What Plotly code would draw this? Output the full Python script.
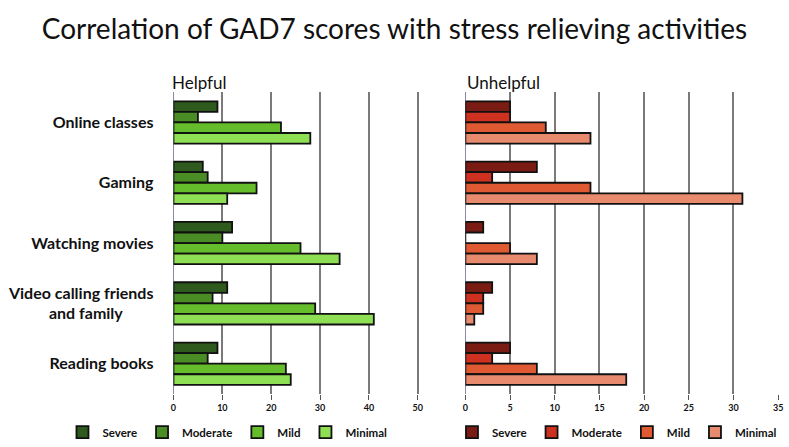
import plotly.graph_objects as go

categories = ["Online classes", "Gaming", "Watching movies",
              "Video calling friends<br>and family\u00a0\u00a0\u00a0\u00a0\u00a0\u00a0\u00a0\u00a0", "Reading books"]
levels = ["Severe", "Moderate", "Mild", "Minimal"]

helpful_severe = [9, 6, 12, 11, 9]
helpful_moderate = [5, 7, 10, 8, 7]
helpful_mild = [22, 17, 26, 29, 23]
helpful_minimal = [28, 11, 34, 41, 24]

unhelpful_severe = [5, 8, 2, 3, 5]
unhelpful_moderate = [5, 3, 0, 2, 3]
unhelpful_mild = [9, 14, 5, 2, 8]
unhelpful_minimal = [14, 31, 8, 1, 18]

left_ticks = [0, 10, 20, 30, 40, 50]
right_ticks = [0, 5, 10, 15, 20, 25, 30, 35]

green_colors = ["#2f5a1d", "#4a8d25", "#66bd2c", "#8fdf55"]
red_colors = ["#7a1c14", "#cf3121", "#df5a33", "#e88a6e"]

helpful = [helpful_severe, helpful_moderate, helpful_mild, helpful_minimal]
unhelpful = [unhelpful_severe, unhelpful_moderate, unhelpful_mild, unhelpful_minimal]

fig = go.Figure()
for i, lvl in enumerate(levels):
    fig.add_trace(go.Bar(
        y=categories, x=helpful[i], orientation="h", name=lvl,
        marker=dict(color=green_colors[i], line=dict(color="#111", width=1.8)),
        xaxis="x", yaxis="y", legend="legend", offsetgroup=str(i),
    ))
for i, lvl in enumerate(levels):
    fig.add_trace(go.Bar(
        y=categories, x=unhelpful[i], orientation="h", name=lvl,
        marker=dict(color=red_colors[i], line=dict(color="#111", width=1.8)),
        xaxis="x2", yaxis="y2", legend="legend2", offsetgroup=str(i),
    ))

W, H = 789, 447
ydom = [1 - 401 / H, 1 - 94 / H]
tickfont = dict(family="Lato", size=9, color="#111", weight="bold")
legfont = dict(family="Lato", size=11.5, color="#111", weight="bold")

fig.update_layout(
    width=W, height=H,
    margin=dict(l=0, r=0, t=0, b=0),
    paper_bgcolor="white", plot_bgcolor="white",
    barmode="group", bargap=0.3, bargroupgap=0,
    title=dict(text="Correlation of GAD7 scores with stress relieving activities",
               x=0.5, xanchor="center", y=1 - 29 / H, yanchor="middle",
               font=dict(family="Lato", size=28, color="#111")),
    xaxis=dict(domain=[172 / W, 420 / W], range=[0, 50.3], tickvals=left_ticks,
               showgrid=True, gridcolor="#7a7a7a", gridwidth=1.5,
               zeroline=True, zerolinecolor="#8a8aa8", zerolinewidth=1,
               ticks="outside", ticklen=5, tickcolor="#555", tickwidth=1.2,
               tickfont=tickfont, anchor="y", showline=False),
    yaxis=dict(domain=ydom, autorange="reversed", showgrid=False, showline=False,
               ticks="", ticklabelstandoff=19,
               tickfont=dict(family="Lato", size=16, color="#111", weight="bold"),
               anchor="x"),
    xaxis2=dict(domain=[466.5 / W, 783 / W], range=[0, 35.1], tickvals=right_ticks,
                showgrid=True, gridcolor="#7a7a7a", gridwidth=1.5,
                zeroline=True, zerolinecolor="#8a8aa8", zerolinewidth=1,
                ticks="outside", ticklen=5, tickcolor="#555", tickwidth=1.2,
                tickfont=tickfont, anchor="y2", showline=False),
    yaxis2=dict(domain=ydom, autorange="reversed", showgrid=False, showline=False,
                showticklabels=False, ticks="", anchor="x2"),
    legend=dict(orientation="h", x=60 / W, xanchor="left", y=1 - 440 / H, yanchor="middle",
                font=legfont, bgcolor="rgba(0,0,0,0)", itemwidth=30, traceorder="normal"),
    legend2=dict(orientation="h", x=453 / W, xanchor="left", y=1 - 440 / H, yanchor="middle",
                 font=legfont, bgcolor="rgba(0,0,0,0)", itemwidth=30, traceorder="normal"),
    annotations=[
        dict(text="Helpful", x=198 / W, y=1 - 84 / H, xref="paper", yref="paper",
             showarrow=False, xanchor="center", yanchor="middle",
             font=dict(family="Lato", size=17, color="#111")),
        dict(text="Unhelpful", x=505 / W, y=1 - 84 / H, xref="paper", yref="paper",
             showarrow=False, xanchor="center", yanchor="middle",
             font=dict(family="Lato", size=17, color="#111")),
    ],
    showlegend=True,
)

fig.write_html("out.html", config={"displayModeBar": False},
               post_script="document.body.style.margin='0';document.body.style.overflow='hidden';")
